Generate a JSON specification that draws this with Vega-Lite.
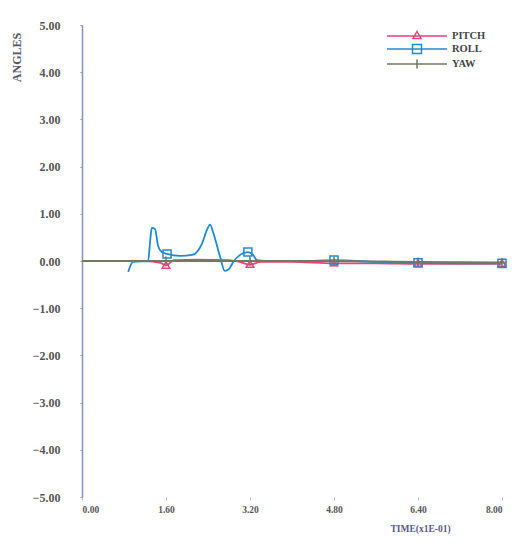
{
  "$schema": "https://vega.github.io/schema/vega-lite/v6.json",
  "width": 420,
  "height": 472,
  "autosize": "none",
  "padding": {"left": 82, "top": 25, "right": 18, "bottom": 47},
  "background": "white",
  "config": {"view": {"stroke": null}, "font": "Liberation Serif"},
  "data": {
    "values": [
      {"series": "PITCH", "t": 0.0, "angle": 0.0, "marker": false},
      {"series": "PITCH", "t": 1.2, "angle": 0.0, "marker": false},
      {"series": "PITCH", "t": 1.5, "angle": -0.04, "marker": false},
      {"series": "PITCH", "t": 1.6, "angle": -0.1, "marker": true},
      {"series": "PITCH", "t": 1.75, "angle": 0.02, "marker": false},
      {"series": "PITCH", "t": 2.2, "angle": 0.03, "marker": false},
      {"series": "PITCH", "t": 2.8, "angle": 0.02, "marker": false},
      {"series": "PITCH", "t": 3.0, "angle": -0.02, "marker": false},
      {"series": "PITCH", "t": 3.2, "angle": -0.08, "marker": true},
      {"series": "PITCH", "t": 3.4, "angle": -0.02, "marker": false},
      {"series": "PITCH", "t": 4.0, "angle": -0.02, "marker": false},
      {"series": "PITCH", "t": 4.8, "angle": -0.05, "marker": true},
      {"series": "PITCH", "t": 5.6, "angle": -0.05, "marker": false},
      {"series": "PITCH", "t": 6.4, "angle": -0.06, "marker": true},
      {"series": "PITCH", "t": 7.2, "angle": -0.06, "marker": false},
      {"series": "PITCH", "t": 8.0, "angle": -0.06, "marker": true},
      {"series": "ROLL", "t": 0.88, "angle": -0.23, "marker": false},
      {"series": "ROLL", "t": 0.97, "angle": -0.02, "marker": false},
      {"series": "ROLL", "t": 1.26, "angle": 0.0, "marker": false},
      {"series": "ROLL", "t": 1.3, "angle": 0.45, "marker": false},
      {"series": "ROLL", "t": 1.33, "angle": 0.7, "marker": false},
      {"series": "ROLL", "t": 1.39, "angle": 0.68, "marker": false},
      {"series": "ROLL", "t": 1.45, "angle": 0.32, "marker": false},
      {"series": "ROLL", "t": 1.52, "angle": 0.19, "marker": false},
      {"series": "ROLL", "t": 1.62, "angle": 0.15, "marker": true},
      {"series": "ROLL", "t": 1.87, "angle": 0.11, "marker": false},
      {"series": "ROLL", "t": 2.1, "angle": 0.13, "marker": false},
      {"series": "ROLL", "t": 2.29, "angle": 0.38, "marker": false},
      {"series": "ROLL", "t": 2.38, "angle": 0.66, "marker": false},
      {"series": "ROLL", "t": 2.44, "angle": 0.77, "marker": false},
      {"series": "ROLL", "t": 2.5, "angle": 0.6, "marker": false},
      {"series": "ROLL", "t": 2.63, "angle": 0.09, "marker": false},
      {"series": "ROLL", "t": 2.72, "angle": -0.21, "marker": false},
      {"series": "ROLL", "t": 2.8, "angle": -0.17, "marker": false},
      {"series": "ROLL", "t": 2.88, "angle": -0.02, "marker": false},
      {"series": "ROLL", "t": 3.01, "angle": 0.13, "marker": false},
      {"series": "ROLL", "t": 3.16, "angle": 0.19, "marker": true},
      {"series": "ROLL", "t": 3.26, "angle": 0.13, "marker": false},
      {"series": "ROLL", "t": 3.33, "angle": 0.02, "marker": false},
      {"series": "ROLL", "t": 3.6, "angle": 0.0, "marker": false},
      {"series": "ROLL", "t": 4.2, "angle": 0.0, "marker": false},
      {"series": "ROLL", "t": 4.8, "angle": 0.02, "marker": true},
      {"series": "ROLL", "t": 5.6, "angle": -0.02, "marker": false},
      {"series": "ROLL", "t": 6.4, "angle": -0.04, "marker": true},
      {"series": "ROLL", "t": 7.2, "angle": -0.05, "marker": false},
      {"series": "ROLL", "t": 8.0, "angle": -0.05, "marker": true},
      {"series": "YAW", "t": 0.0, "angle": 0.0, "marker": false},
      {"series": "YAW", "t": 1.6, "angle": 0.0, "marker": true},
      {"series": "YAW", "t": 3.2, "angle": 0.0, "marker": true},
      {"series": "YAW", "t": 4.8, "angle": 0.0, "marker": true},
      {"series": "YAW", "t": 6.4, "angle": -0.02, "marker": true},
      {"series": "YAW", "t": 8.0, "angle": -0.03, "marker": true}
    ]
  },
  "encoding": {
    "x": {
      "field": "t", "type": "quantitative",
      "scale": {"domain": [0, 8], "nice": false, "zero": false},
      "axis": {
        "title": "TIME(x1E-01)", "values": [0, 1.6, 3.2, 4.8, 6.4, 8.0], "format": ".2f",
        "domain": false, "grid": false, "tickSize": 3, "tickColor": "#bbbbbb",
        "labelFont": "Liberation Serif", "labelFontSize": 9.5, "labelFontWeight": "bold", "labelColor": "#555555", "labelPadding": 4,
        "titleFont": "Liberation Serif", "titleFontSize": 9.5, "titleFontWeight": "bold", "titleColor": "#5a5a88",
        "titleX": 338, "titleY": 31, "titleAlign": "center", "titleBaseline": "middle"
      }
    },
    "y": {
      "field": "angle", "type": "quantitative",
      "scale": {"domain": [-5, 5], "nice": false},
      "axis": {
        "title": "ANGLES", "values": [-5, -4, -3, -2, -1, 0, 1, 2, 3, 4, 5], "format": ".2f",
        "grid": false, "domainColor": "#8a90b0", "domainWidth": 1.5, "tickSize": 2, "tickColor": "#999999",
        "labelFont": "Liberation Serif", "labelFontSize": 12, "labelFontWeight": "bold", "labelColor": "#555555", "labelPadding": 20,
        "titleFont": "Liberation Serif", "titleFontSize": 12, "titleFontWeight": "bold", "titleColor": "#555566",
        "titleX": -66, "titleY": 32, "titleAlign": "center", "titleBaseline": "middle", "titleAngle": 270
      }
    }
  },
  "layer": [
    {
      "mark": {"type": "line", "interpolate": "monotone", "strokeWidth": 1.8},
      "encoding": {
        "color": {
          "field": "series", "type": "nominal",
          "scale": {"domain": ["PITCH", "ROLL", "YAW"], "range": ["#e4457c", "#2089d6", "#6f7a60"]},
          "legend": {
            "title": null, "orient": "none", "legendX": 329, "legendY": 5, "padding": 0,
            "symbolSize": 100, "symbolStrokeWidth": 1.5, "labelOffset": 29, "rowPadding": -1,
            "labelFont": "Liberation Serif", "labelFontSize": 10.5, "labelFontWeight": "bold", "labelColor": "#444444",
            "encode": {
              "symbols": {
                "update": {
                  "shape": {"signal": "datum.value === 'PITCH' ? 'M-6,0H6M0,-0.9L0.8,0.5L-0.8,0.5Z' : datum.value === 'ROLL' ? 'M-6,0H6M-0.9,-0.9H0.9V0.9H-0.9Z' : 'M-6,0H6M0,-0.9V0.9'"},
                  "fill": {"value": "transparent"}
                }
              }
            }
          }
        }
      }
    },
    {
      "transform": [{"filter": "datum.marker && datum.series === 'PITCH'"}],
      "mark": {"type": "point", "filled": false, "strokeWidth": 1.5, "size": 70, "opacity": 1, "color": "#e4457c", "shape": "M0,-1L0.9,0.6L-0.9,0.6Z"},
      "encoding": {}
    },
    {
      "transform": [{"filter": "datum.marker && datum.series === 'ROLL'"}],
      "mark": {"type": "point", "filled": false, "strokeWidth": 1.5, "size": 80, "opacity": 1, "color": "#2089d6", "shape": "M-0.9,-0.9H0.9V0.9H-0.9Z"},
      "encoding": {}
    },
    {
      "transform": [{"filter": "datum.marker && datum.series === 'YAW'"}],
      "mark": {"type": "point", "filled": false, "strokeWidth": 1.5, "size": 80, "opacity": 1, "color": "#6f7a60", "shape": "M-1,0H1M0,-1V1"},
      "encoding": {}
    }
  ]
}
